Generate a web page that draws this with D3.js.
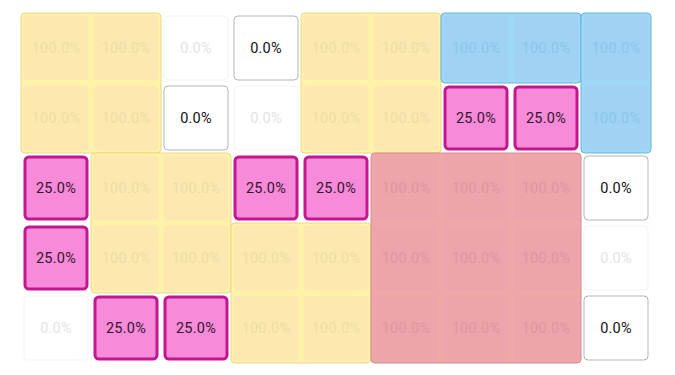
<!DOCTYPE html>
<html>
<head>
<meta charset="utf-8">
<script src="https://cdn.jsdelivr.net/npm/d3@7"></script>
<style>
  html, body { margin: 0; padding: 0; background: #fff; }
  svg { display: block; }
</style>
</head>
<body>
<svg id="chart" width="675" height="375"></svg>
<script>
// ---- data ----
const rowKeys = [0, 1, 2, 3, 4];
const colKeys = [0, 1, 2, 3, 4, 5, 6, 7, 8];
const values = [
  [100, 100, 0, 0, 100, 100, 100, 100, 100],
  [100, 100, 0, 0, 100, 100, 25, 25, 100],
  [25, 100, 100, 25, 25, 100, 100, 100, 0],
  [25, 100, 100, 100, 100, 100, 100, 100, 0],
  [0, 25, 25, 100, 100, 100, 100, 100, 0]
];
// zero cells that are "active" (shown with border and dark text)
const activeZeros = [[0, 3], [1, 2], [2, 8], [4, 8]];
// groups: rows/cols spans and colour key
const groupRows0 = [0, 0, 0, 0, 2, 3, 2];
const groupRows1 = [1, 1, 0, 1, 3, 4, 4];
const groupCols0 = [0, 4, 6, 8, 1, 3, 5];
const groupCols1 = [1, 5, 7, 8, 2, 4, 7];
const groupColor = ["yellow", "yellow", "blue", "blue", "yellow", "yellow", "red"];

const palette = {
  yellow: { group: "#fff3a8", stroke: "#f1d48a", cell: "#fde8b1", text: "#ebdea3" },
  blue:   { group: "#9ed9f6", stroke: "#6cb1d9", cell: "#a0d2f4", text: "#8cc5ea" },
  red:    { group: "#eea8a8", stroke: "#d48990", cell: "#eda4ab", text: "#de979e" }
};

// ---- scales ----
const x = d3.scaleBand().domain(colKeys).range([23.5, 648.5]).paddingInner(5 / 70).paddingOuter(0);
const y = d3.scaleBand().domain(rowKeys).range([15.5, 360.5]).paddingInner(5 / 70).paddingOuter(0);
const bw = x.bandwidth(), bh = y.bandwidth();

const svg = d3.select("#chart");

const groups = groupColor.map((c, i) => ({
  r0: groupRows0[i], r1: groupRows1[i], c0: groupCols0[i], c1: groupCols1[i], color: c
}));
function groupOf(r, c) {
  return groups.find(g => r >= g.r0 && r <= g.r1 && c >= g.c0 && c <= g.c1);
}
const cells = [];
rowKeys.forEach(r => colKeys.forEach(c => {
  const v = values[r][c];
  const g = groupOf(r, c);
  let kind;
  if (g) kind = "group";
  else if (v === 25) kind = "pink";
  else if (activeZeros.some(a => a[0] === r && a[1] === c)) kind = "active";
  else kind = "faint";
  cells.push({ r, c, v, g, kind });
}));

const pad = 2.5;
// group backgrounds
svg.append("g").selectAll("rect").data(groups).join("rect")
  .attr("x", d => x(d.c0) - pad)
  .attr("y", d => y(d.r0) - pad)
  .attr("width", d => x(d.c1) + bw - x(d.c0) + 2 * pad)
  .attr("height", d => y(d.r1) + bh - y(d.r0) + 2 * pad)
  .attr("rx", 4)
  .attr("fill", d => palette[d.color].group)
  .attr("stroke", d => palette[d.color].stroke)
  .attr("stroke-width", 1);

// cells
const cg = svg.append("g").selectAll("g").data(cells).join("g");
cg.append("rect")
  .attr("x", d => d.kind === "pink" ? x(d.c) + 1.5 : d.kind === "group" ? x(d.c) : x(d.c) + 0.5)
  .attr("y", d => d.kind === "pink" ? y(d.r) + 1.5 : d.kind === "group" ? y(d.r) : y(d.r) + 0.5)
  .attr("width", d => d.kind === "pink" ? bw - 3 : d.kind === "group" ? bw : bw - 1)
  .attr("height", d => d.kind === "pink" ? bh - 3 : d.kind === "group" ? bh : bh - 1)
  .attr("rx", 4)
  .attr("fill", d => d.kind === "group" ? palette[d.g.color].cell : d.kind === "pink" ? "#f78ad9" : "#ffffff")
  .attr("stroke", d => d.kind === "pink" ? "#c3168f" : d.kind === "active" ? "#b5b5b5" : d.kind === "faint" ? "#f3f3f3" : "none")
  .attr("stroke-width", d => d.kind === "pink" ? 3 : 1);

cg.append("text")
  .attr("x", d => x(d.c) + bw / 2)
  .attr("y", d => y(d.r) + bh / 2)
  .attr("text-anchor", "middle")
  .attr("dominant-baseline", "central")
  .attr("font-family", "Roboto, sans-serif")
  .attr("font-size", "14.5px")
  .attr("letter-spacing", "0.25px")
  .attr("fill", d => d.kind === "group" ? palette[d.g.color].text : d.kind === "pink" ? "#35142f" : d.kind === "active" ? "#111111" : "#e3e3e3")
  .text(d => d3.format(".1f")(d.v) + "%");
</script>
</body>
</html>
